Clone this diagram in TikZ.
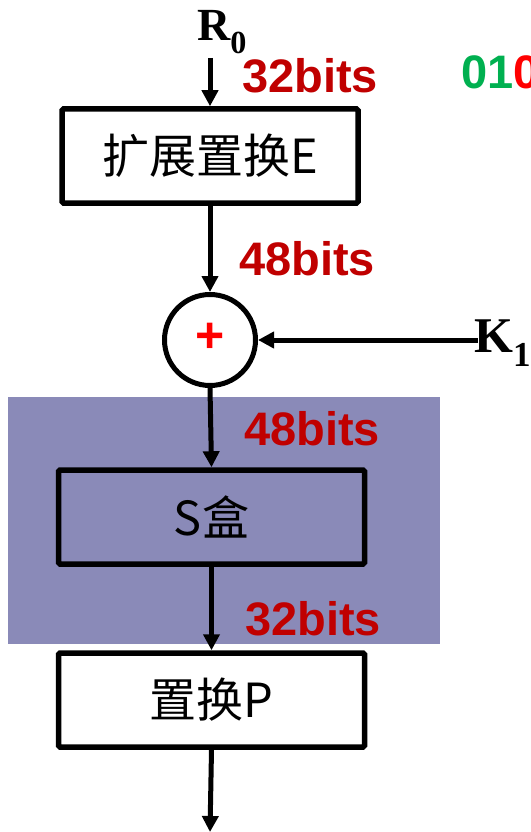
\documentclass[tikz,border=0pt]{standalone}
\usepackage{fontspec}
\setmainfont{Liberation Serif}
\newfontfamily\cjk{Noto Sans CJK SC}
\newfontfamily\arialb{Liberation Sans}
\usetikzlibrary{arrows.meta}
\definecolor{bitred}{HTML}{C00000}
\definecolor{panel}{HTML}{8A8AB8}
\definecolor{grn}{HTML}{00B050}
\begin{document}
\begin{tikzpicture}[x=1pt,y=-1pt,
  stagebox/.style={draw,line width=5.5pt,rounded corners=1.5pt,minimum width=#1,minimum height=94pt,inner sep=0pt,font=\cjk\fontsize{47}{50}\selectfont},
  stagebox/.default=296pt,
  flow/.style={line width=5pt,-{Triangle[length=16pt,width=16pt]}},
  bits/.style={text=bitred,font=\arialb\bfseries\fontsize{47}{50}\selectfont,inner sep=0pt},
  sym/.style={font=\bfseries\fontsize{46}{50}\selectfont,inner sep=0pt}]
\useasboundingbox (0,0) rectangle (530,832);
\fill[panel] (8,397) rectangle (440,644);
\node[sym] (r0) at (222,32) {R$_{\mathbf 0}$};
\coordinate (r0b) at (210,58);
\node[stagebox] (e) at (210,156) {扩展置换E};
\node[draw,circle,line width=5pt,minimum size=91pt,inner sep=0pt] (x) at (210,340) {};
\node[text=red,font=\arialb\bfseries\fontsize{50}{54}\selectfont,inner sep=0pt] (plus) at (210,338) {+};
\node[sym,anchor=west,font=\bfseries\fontsize{50}{54}\selectfont] (k1) at (474,343) {K$_{\mathbf 1}$};
\coordinate (k1w) at (478,340);
\node[stagebox=306pt] (s) at (211.5,517) {S盒};
\node[stagebox=306pt] (p) at (211.5,700) {置换P};
\coordinate (out) at (210,832);
\node[bits] (b1) at (310,76) {32bits};
\node[bits] (b2) at (307,259) {48bits};
\node[bits] (b3) at (312,429) {48bits};
\node[bits] (b4) at (313,619) {32bits};
\node[font=\arialb\bfseries\fontsize{47}{50}\selectfont,inner sep=0pt,anchor=west] (bin) at (461,72) {\textcolor{grn}{01}\textcolor{red}{0}};
\draw[flow] (r0b) -- (e.north);
\draw[flow] (e.south) -- (x.north);
\draw[flow] (k1w) -- (x.east);
\draw[flow] (x.south) -- (s.north);
\draw[flow] (s.south) -- (p.north);
\draw[flow] (p.south) -- (out);
\end{tikzpicture}
\end{document}
